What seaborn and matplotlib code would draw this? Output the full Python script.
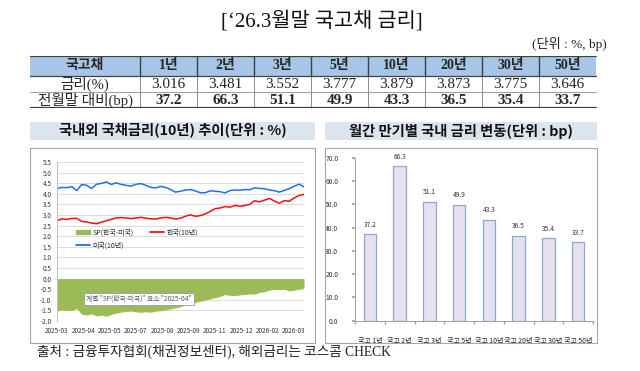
import numpy as np
import pandas as pd
import seaborn as sns
import matplotlib.pyplot as plt
from matplotlib.patches import Rectangle, Patch
from matplotlib.lines import Line2D

# 표 데이터
tenors = ["1년", "2년", "3년", "5년", "10년", "20년", "30년", "50년"]
rates = [3.016, 3.481, 3.552, 3.777, 3.879, 3.873, 3.775, 3.646]
changes = [37.2, 66.3, 51.1, 49.9, 43.3, 36.5, 35.4, 33.7]
bar_labels = ["국고 " + t for t in tenors]

# 국내외 10년 금리 (그림에서 읽은 값, 2025-03 ~ 2026-03)
us_10y = [4.25, 4.30, 4.29, 4.34, 4.15, 4.44, 4.40, 4.25, 4.45, 4.49,
          4.56, 4.44, 4.52, 4.44, 4.40, 4.36, 4.45, 4.48, 4.40, 4.30,
          4.28, 4.35, 4.30, 4.20, 4.08, 4.12, 4.18, 4.20, 4.14, 4.05,
          4.05, 4.14, 4.12, 4.10, 4.04, 4.15, 4.18, 4.17, 4.20, 4.19,
          4.28, 4.25, 4.24, 4.18, 4.15, 4.08, 4.16, 4.24, 4.36, 4.45, 4.33]
kr_10y = [2.73, 2.82, 2.79, 2.84, 2.84, 2.70, 2.67, 2.62, 2.59, 2.66,
          2.73, 2.80, 2.86, 2.88, 2.86, 2.83, 2.86, 2.89, 2.85, 2.82,
          2.81, 2.86, 2.89, 2.86, 2.81, 2.85, 2.94, 3.01, 2.94, 2.97,
          3.05, 3.17, 3.30, 3.33, 3.40, 3.37, 3.45, 3.41, 3.45, 3.50,
          3.67, 3.62, 3.70, 3.78, 3.66, 3.55, 3.68, 3.65, 3.80, 3.92, 3.97]
spread = [-1.53, -1.48, -1.50, -1.50, -1.41, -1.68, -1.72, -1.66, -1.76, -1.72,
          -1.78, -1.68, -1.63, -1.58, -1.55, -1.53, -1.57, -1.59, -1.56, -1.59,
          -1.53, -1.52, -1.47, -1.43, -1.38, -1.32, -1.24, -1.17, -1.12, -1.07,
          -1.01, -0.96, -0.90, -0.84, -0.75, -0.79, -0.80, -0.77, -0.75, -0.72,
          -0.74, -0.65, -0.62, -0.54, -0.51, -0.52, -0.50, -0.58, -0.55, -0.50, -0.44]
date_labels = ["2025-03", "2025-04", "2025-05", "2025-07", "2025-08",
               "2025-09", "2025-11", "2025-12", "2026-02", "2026-03"]

sns.set_theme(style="white")
plt.rcParams["font.family"] = ["Noto Sans CJK KR", "DejaVu Sans"]
plt.rcParams["axes.unicode_minus"] = False
SERIF = ["Liberation Serif", "Noto Sans CJK KR"]

W, H = 640, 371


def px(x0, y0, x1, y1):
    # 픽셀 좌표 -> figure 비율
    return [x0 / W, 1 - y1 / H, (x1 - x0) / W, (y1 - y0) / H]


def fx(x):
    return x / W


def fy(y):
    return 1 - y / H


fig = plt.figure(figsize=(6.4, 3.71), dpi=100)
fig.patch.set_facecolor("white")

fig.text(fx(322), fy(21), "[‘26.3월말 국고채 금리]", fontsize=15,
         family=SERIF, ha="center", va="center", color="#111")
fig.text(fx(607), fy(44), "(단위 : %, bp)", fontsize=9.5,
         family=SERIF, ha="right", va="center", color="#222")

# ---- 표 ----
tax = fig.add_axes(px(30, 56, 600, 108))
tax.set_xlim(0, 570)
tax.set_ylim(52, 0)
tax.axis("off")
edges = np.concatenate([[0, 110], 110 + 57 * np.arange(1, 9)])
tax.add_patch(Rectangle((0, 0), edges[-1], 20, color="#a7c5e6", lw=0))
for e in edges[1:-1]:
    tax.plot([e, e], [0, 20], color="#404040", lw=1.0)
    tax.plot([e, e], [20, 52], color="#8c8c8c", lw=0.7)
tax.plot([0, edges[-1]], [0, 0], color="#404040", lw=1.6)
tax.plot([0, edges[-1]], [20, 20], color="#404040", lw=0.9)
tax.plot([0, edges[-1]], [36, 36], color="#8c8c8c", lw=0.6)
tax.plot([0, edges[-1]], [52, 52], color="#404040", lw=1.6)

centers = (edges[:-1] + edges[1:]) / 2
tax.text(centers[0], 10, "국고채", ha="center", va="center", fontsize=10,
         weight="bold", family=SERIF)
tax.text(centers[0], 28, "금리(%)", ha="center", va="center", fontsize=10.5,
         family=SERIF)
tax.text(centers[0], 44, "전월말 대비(bp)", ha="center", va="center",
         fontsize=10.5, family=SERIF)
for c, t, r, ch in zip(centers[1:], tenors, rates, changes):
    tax.text(c, 10, t, ha="center", va="center", fontsize=10,
             weight="bold", family=SERIF)
    tax.text(c, 28, f"{r:.3f}", ha="center", va="center", fontsize=11,
             family=SERIF, color="#222")
    tax.text(c, 44, f"{ch:.1f}", ha="center", va="center", fontsize=11,
             weight="bold", family=SERIF)

# ---- 패널 제목, 테두리 ----
for (x0, x1), title in [((30, 315), "국내외 국채금리(10년) 추이(단위 : %)"),
                        ((325, 597), "월간 만기별 국내 금리 변동(단위 : bp)")]:
    fig.add_artist(Rectangle((fx(x0), fy(140)), (x1 - x0) / W, 18 / H,
                             transform=fig.transFigure, color="#dce4ee", lw=0))
    fig.text(fx((x0 + x1) / 2), fy(131), title, fontsize=10.3, weight="bold",
             ha="center", va="center", color="#111")
    fig.add_artist(Rectangle((fx(x0), fy(343)), (x1 - x0) / W, 195 / H,
                             transform=fig.transFigure, fill=False,
                             ec="#a6a6a6", lw=0.8))

# ---- 왼쪽: 국내외 국채금리 ----
lax = fig.add_axes(px(57, 162, 304, 321))
x = np.arange(len(us_10y))
lax.fill_between(x, 0, spread, color="#9bbb59", lw=0)
sns.lineplot(x=x, y=kr_10y, ax=lax, color="#ee1111", lw=1.1)
sns.lineplot(x=x, y=us_10y, ax=lax, color="#1f6fe8", lw=1.1)
lax.set_xlim(0, len(x) - 1)
lax.set_ylim(-2.0, 5.5)
yt = np.arange(-2.0, 5.51, 0.5)
lax.set_yticks(yt)
lax.set_yticklabels([f"{v:.1f}" for v in yt])
lax.set_xticks(np.arange(10) * 0.1065 * (len(x) - 1))
lax.set_xticklabels(date_labels)
lax.yaxis.grid(True, color="#d4d4d4", lw=0.6)
lax.set_axisbelow(True)
for s in ["top", "right", "bottom"]:
    lax.spines[s].set_visible(False)
lax.spines["left"].set_color("#bfbfbf")
lax.spines["left"].set_linewidth(0.7)
lax.tick_params(labelsize=4.6, colors="#333", length=0, pad=4)
lax.set_xlabel("")
lax.set_ylabel("")

handles = [Patch(color="#9bbb59"), Line2D([], [], color="#1f6fe8", lw=1.3),
           Line2D([], [], color="#ee1111", lw=1.3)]
lax.legend(handles, ["SP(한국-미국)", "미국(10년)", "한국(10년)"], ncol=2,
           loc="upper left", bbox_to_anchor=(fx(73), fy(225)),
           bbox_transform=fig.transFigure, frameon=False, fontsize=5,
           handlelength=2.0, columnspacing=2.4, labelspacing=0.7,
           borderpad=0, handletextpad=0.3)

fig.text(fx(86), fy(299), '계열 "SP(한국-미국)" 요소 "2025-04"', fontsize=4.8,
         color="#555", va="center",
         bbox=dict(boxstyle="square,pad=0.35", fc="white", ec="#9a9a9a", lw=0.6))

# ---- 오른쪽: 만기별 금리 변동 ----
rax = fig.add_axes(px(355, 157.7, 593, 320.7))
sns.barplot(x=bar_labels, y=changes, ax=rax, color="#e6e0ef",
            edgecolor="#8ea9d0", linewidth=0.9, width=0.42, saturation=1)
rax.bar_label(rax.containers[0], fmt="%.1f", fontsize=4.8, padding=4,
              color="#333")
rax.set_ylim(0, 70)
rt = np.arange(0, 71, 10)
rax.set_yticks(rt)
rax.set_yticklabels([f"{v:.1f}" for v in rt])
rax.set_xticks(np.arange(-0.5, len(changes), 1), minor=True)
rax.set_xlim(-0.5, len(changes) - 0.5)
for s in ["top", "right"]:
    rax.spines[s].set_visible(False)
for s in ["left", "bottom"]:
    rax.spines[s].set_color("#a0a0a0")
    rax.spines[s].set_linewidth(0.7)
rax.tick_params(axis="y", left=True, length=2, color="#a0a0a0",
                labelsize=4.8, labelcolor="#333", pad=10)
rax.tick_params(axis="x", which="major", bottom=False, labelsize=5.0,
                labelcolor="#222", pad=6)
rax.tick_params(axis="x", which="minor", bottom=True, length=2,
                color="#a0a0a0")
rax.set_xlabel("")
rax.set_ylabel("")

fig.text(fx(37), fy(352), "출처 : 금융투자협회(채권정보센터), 해외금리는 코스콤 CHECK",
         fontsize=9.8, family=SERIF, va="center", color="#222")

fig.savefig("out.png", dpi=100)
